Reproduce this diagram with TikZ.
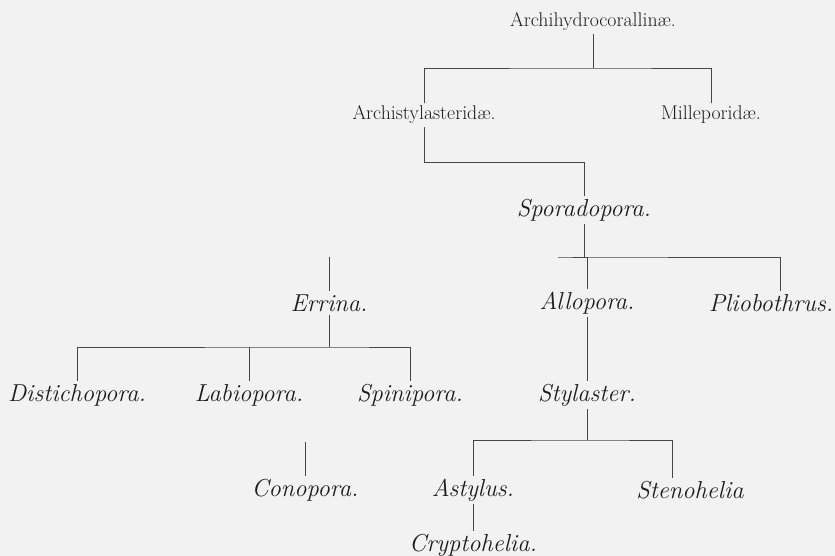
\documentclass[tikz,border=0pt]{standalone}
\usepackage{tikz}

\definecolor{paper}{RGB}{242,242,242}
\definecolor{ink}{RGB}{28,28,28}
\definecolor{rule}{RGB}{70,70,70}

\tikzset{
  fam/.style={text=ink,inner sep=3pt,font=\fontsize{19.8}{22}\selectfont},
  gen/.style={text=ink,inner sep=3pt,font=\fontsize{24.5}{27}\selectfont\itshape},
  link/.style={draw=rule,line width=0.8pt}
}

\begin{document}
\begin{tikzpicture}[x=1pt,y=-1pt]
  \fill[paper] (0,0) rectangle (835,556);
  \useasboundingbox (0,0) rectangle (835,556);
  % families
  \node[fam] (arch)    at (593,22)  {Archihydrocorallin\ae.};
  \node[fam] (archsty) at (424,115) {Archistylasterid\ae.};
  \node[fam] (mill)    at (711,115) {Milleporid\ae.};
  % genera
  \node[gen] (spor)   at (584,210) {Sporadopora.};
  \node[gen] (errina) at (329,303) {Errina.};
  \node[gen] (allo)   at (587,303) {Allopora.};
  \node[gen] (plio)   at (771,303) {Pliobothrus.};
  \node[gen] (dist)   at (77,395)  {Distichopora.};
  \node[gen] (labio)  at (249,395) {Labiopora.};
  \node[gen] (spini)  at (410,395) {Spinipora.};
  \node[gen] (styl)   at (587,395) {Stylaster.};
  \node[gen] (cono)   at (305,490) {Conopora.};
  \node[gen] (asty)   at (473,490) {Astylus.};
  \node[gen] (steno)  at (690,490) {Stenohelia};
  \node[gen] (crypto) at (473,545) {Cryptohelia.};
  % bars
  \coordinate (b1) at (0,68);
  \coordinate (b2) at (0,162);
  \coordinate (b3) at (558,257);
  \coordinate (b4) at (0,347);
  \coordinate (b5) at (0,440);
  \coordinate (etop) at (329,257);
  \coordinate (ctop) at (305,442);
  % tree
  \draw[link] (arch) -- (arch |- b1);
  \draw[link] (archsty) |- (arch |- b1) -| (mill);
  \draw[link] (archsty) |- (spor |- b2) -- (spor);
  \draw[link] (spor) -- (spor |- b3);
  \draw[link] (allo) |- (b3) -| ([xshift=9pt]plio.north);
  \draw[link] (etop) -- (errina);
  \draw[link] (errina) -- (errina |- b4);
  \draw[link] (dist) |- (errina |- b4) -| (spini);
  \draw[link] (labio) -- (labio |- b4);
  \draw[link] (allo) -- (styl);
  \draw[link] (styl) -- (styl |- b5);
  \draw[link] (asty) |- (styl |- b5) -| ([xshift=-18pt]steno.north);
  \draw[link] (ctop) -- (cono);
  \draw[link] (asty) -- (crypto);
\end{tikzpicture}
\end{document}
